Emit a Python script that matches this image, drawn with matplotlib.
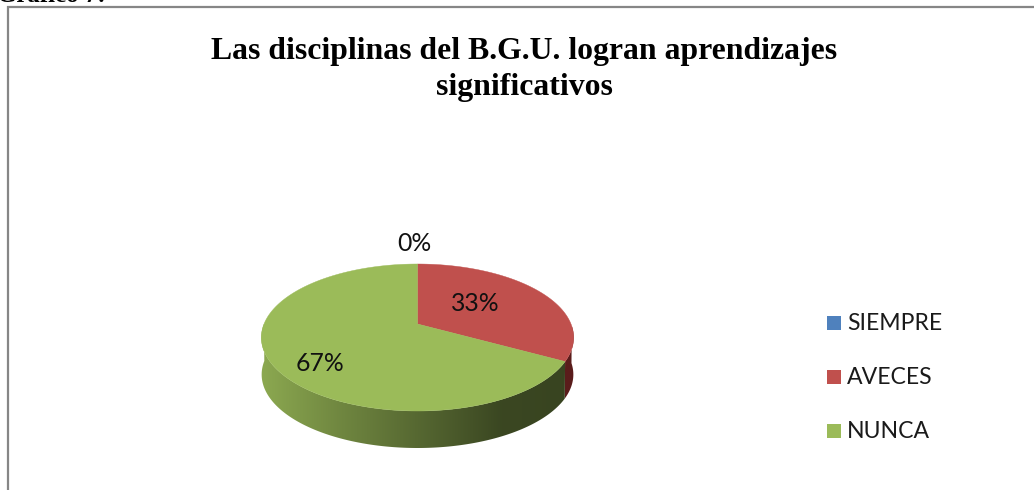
import numpy as np
import matplotlib
matplotlib.use("Agg")
import matplotlib.pyplot as plt
from matplotlib.patches import Polygon, Rectangle

categories = ["SIEMPRE", "AVECES", "NUNCA"]
values = [0, 33, 67]
colors = ["#4f81bd", "#c0504d", "#9bbb59"]
title = "Las disciplinas del B.G.U. logran aprendizajes\nsignificativos"
heading = "Gráfico 7:"

W, H = 1034, 490
CX, APEX_Y = 417.5, 324
C = 0.1837
DEPTH = 37


def project(theta, dy=0.0, shrink=1.0):
    # theta clockwise from the top, tilted disc with some perspective
    u = np.sin(theta)
    v = np.cos(theta)
    d = C * v + 1
    x = CX + 153.5 * shrink * u / d
    y = (-11.5 * v + APEX_Y) / d + dy
    return x, y


def wall(th):
    x0, y0 = project(th)
    x1, y1 = project(th[::-1], DEPTH, 0.998)
    return np.c_[np.r_[x0, x1], np.r_[y0, y1]]


fig = plt.figure(figsize=(W / 100, H / 100), dpi=100)
ax = fig.add_axes([0, 0, 1, 1])
ax.set_xlim(0, W)
ax.set_ylim(H, 0)
ax.axis("off")

# chart frame, open on the right and the bottom
ax.plot([8, 8, W], [H, 7, 7], color="#868686", lw=1.6, solid_joinstyle="miter")
ax.text(-3, 2.5, heading, family="Liberation Serif", weight="bold", fontsize=18, va="baseline")

ax.text(524, 69.5, title, family="Liberation Serif", weight="bold", fontsize=22.9,
        ha="center", va="center", linespacing=1.36, color="black")

fracs = np.cumsum([0] + values) / sum(values) * 2 * np.pi
front_end = 3 * np.pi / 2

# side wall of the red slice
th_red = np.linspace(np.pi / 2 + 0.03, fracs[2], 40)
ax.add_patch(Polygon(wall(th_red), fc="#5a1c1b", ec="none", zorder=2))

# side wall of the green slice, dark on the right and light on the left
th_green = np.linspace(fracs[2], front_end, 200)
patch = Polygon(wall(th_green), fc="none", ec="none", zorder=2)
ax.add_patch(patch)
stops_x = [262, 340, 420, 500, 575]
stops_f = [0.90, 0.72, 0.55, 0.38, 0.36]
xs = np.arange(255, 580)
f = np.interp(xs, stops_x, stops_f)
grad = np.array(matplotlib.colors.to_rgb(colors[2]))[None, None, :] * f[None, :, None]
im = ax.imshow(grad, extent=(255, 580, 460, 320), aspect="auto", zorder=2, interpolation="bilinear")
im.set_clip_path(patch)
ax.set_xlim(0, W)
ax.set_ylim(H, 0)

# top of the pie
for i in range(len(values)):
    if values[i] == 0:
        continue
    th = np.linspace(fracs[i], fracs[i + 1], 200)
    px, py = project(th)
    ax.fill(np.r_[CX, px], np.r_[APEX_Y, py], color=colors[i], lw=0.3, zorder=3)

# percent labels
label_pos = [(414, 243), (475, 303), (320, 363)]
for v, (lx, ly) in zip(values, label_pos):
    ax.text(lx, ly, f"{v}%", family="Lato", fontsize=17.8, ha="center", va="center",
            color="#111111", zorder=4)

# legend
legend_y = [323, 377, 431]
for name, c, ly in zip(categories, colors, legend_y):
    ax.add_patch(Rectangle((827, ly - 7), 14, 14, fc=c, ec="none"))
    ax.text(847, ly, name, family="Lato", fontsize=16.6, va="center", color="#1a1a1a")

fig.savefig("out.png", dpi=100)
